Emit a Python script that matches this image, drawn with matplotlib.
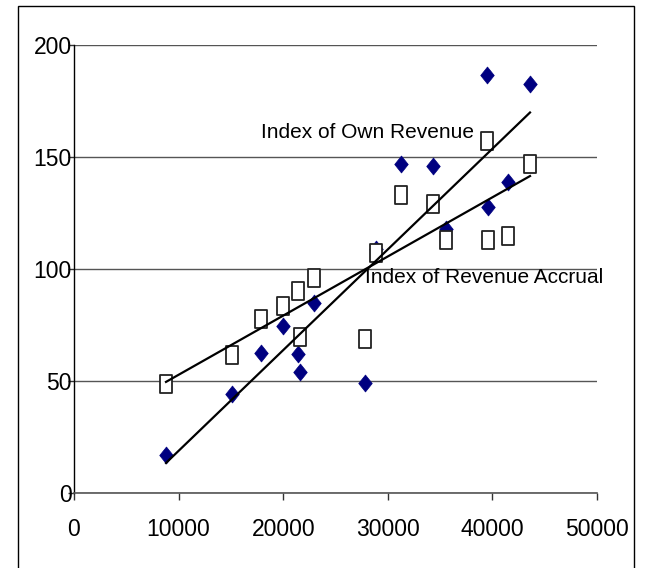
import numpy as np
import matplotlib
matplotlib.use("Agg")
import matplotlib.pyplot as plt
from matplotlib.path import Path
from matplotlib.patches import Rectangle

plt.rcParams['font.family'] = ['Liberation Sans', 'DejaVu Sans']

# Data (x = revenue base, two index series)
x_vals = [8795, 15105, 17878, 19980, 21415, 21606, 22945, 27820,
          28872, 31262, 34321, 35564, 39484, 39579, 41491, 43595]
own_revenue = [17, 44, 62.5, 74.5, 62, 54, 85, 49,
               109, 147, 146, 118, 186.6, 127.7, 138.8, 182.6]
revenue_accrual = [48.7, 61.6, 77.7, 83.5, 90, 69.6, 96, 68.75,
                   107, 133, 129, 113, 157, 113, 114.7, 147]
x_ticks = [0, 10000, 20000, 30000, 40000, 50000]
y_ticks = [0, 50, 100, 150, 200]
label_own = "Index of Own Revenue"
label_accrual = "Index of Revenue Accrual"

fig = plt.figure(figsize=(6.59, 5.68), dpi=100)
ax = fig.add_axes([74/659, 1-493/568, (597-74)/659, (493-45)/568])

diamond = Path([(0, -0.5), (0.4, 0), (0, 0.5), (-0.4, 0), (0, -0.5)],
               [Path.MOVETO, Path.LINETO, Path.LINETO, Path.LINETO, Path.CLOSEPOLY])
tall_square = Path([(-0.34, -0.5), (0.34, -0.5), (0.34, 0.5), (-0.34, 0.5), (-0.34, -0.5)],
                   [Path.MOVETO, Path.LINETO, Path.LINETO, Path.LINETO, Path.CLOSEPOLY])

xs = np.array(x_vals, dtype=float)
ax.plot(xs, own_revenue, linestyle='none', marker=diamond, markersize=12.2,
        markerfacecolor='#000080', markeredgecolor='#000080', markeredgewidth=0.5, zorder=3)
ax.plot(xs, revenue_accrual, linestyle='none', marker=tall_square, markersize=12.5,
        markerfacecolor='white', markeredgecolor='#222222', markeredgewidth=1.3, zorder=4)

# linear trendlines
xr = np.array([xs.min(), xs.max()])
for ys in (own_revenue, revenue_accrual):
    k, b = np.polyfit(xs, np.array(ys, dtype=float), 1)
    ax.plot(xr, k * xr + b, color='black', lw=1.6, zorder=5)

ax.text(17900, 161, label_own, fontsize=15, va='center', ha='left', zorder=6)
ax.text(27850, 96, label_accrual, fontsize=15, va='center', ha='left', zorder=6)

ax.set_xlim(0, 50000)
ax.set_ylim(0, 200)
ax.set_xticks(x_ticks)
ax.set_yticks(y_ticks)
ax.set_xticklabels([str(t) for t in x_ticks])
ax.set_yticklabels([str(t) for t in y_ticks])
ax.tick_params(axis='x', direction='out', length=5, width=1, pad=13, labelsize=16.5, color='#333333')
ax.tick_params(axis='y', direction='out', length=4, width=1, pad=-2.5, labelsize=16.5, color='#333333')

ax.yaxis.grid(True, color='#555555', lw=1)
ax.set_axisbelow(True)
for s in ('top', 'right'):
    ax.spines[s].set_visible(False)
ax.spines['left'].set_color('black')
ax.spines['left'].set_linewidth(1)
ax.spines['bottom'].set_color('#555555')
ax.spines['bottom'].set_linewidth(1.2)

fig.patches.append(Rectangle((18/659, -0.1), (634-18)/659, 1.1 - 6/568, transform=fig.transFigure,
                             fill=False, edgecolor='black', lw=1, zorder=0))

fig.savefig("out.png", dpi=100)
